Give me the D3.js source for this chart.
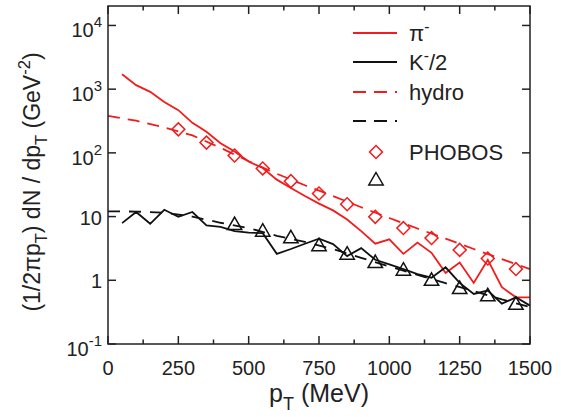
<!DOCTYPE html>
<html>
<head>
<meta charset="utf-8">
<script src="https://cdn.jsdelivr.net/npm/d3@7"></script>
<style>
  body { margin: 0; background: #fff; }
  svg { font-family: "Liberation Sans", Arial, sans-serif; }
</style>
</head>
<body>
<svg id="chart" width="570" height="417"></svg>
<script>
// spectra, pT in MeV
const pT = [50, 100, 150, 200, 250, 300, 350, 400, 450, 500, 550, 600, 650, 700, 750,
  800, 850, 900, 950, 1000, 1050, 1100, 1150, 1200, 1250, 1300, 1350, 1400, 1450, 1500];
const pion = [1713, 1155, 908, 630, 468, 296, 214, 142, 105, 73, 58, 38, 28, 21, 16,
  12.5, 9, 5.9, 3.75, 4.4, 2.6, 3.9, 2.7, 1.3, 1.9, 0.91, 2.1, 0.78, 0.54, 0.54];
const kaon = [7.9, 11.8, 7.7, 12.8, 9.9, 11.8, 7.3, 6.9, 5.9, 5.6, 5.5, 2.6, 3.1, 3.75, 4.5,
  3.7, 2.4, 3.2, 2.1, 1.78, 1.5, 1.25, 1.1, 1.6, 0.91, 0.61, 0.69, 0.43, 0.54, 0.40];

const hydroPT = [0, 100, 200, 300, 400, 500, 600, 700, 800, 900, 1000, 1100, 1200, 1300, 1400, 1500];
const pionHydro = [380, 320, 250, 188, 120, 74, 47, 31, 21, 14, 9.5, 6.5, 4.5, 3.1, 2.15, 1.5];
const kaonHydro = [12.1, 12, 11.5, 10, 8, 6.6, 5, 4, 3.1, 2.25, 1.65, 1.22, 0.9, 0.68, 0.5, 0.38];

const phobosPionPT = [250, 350, 450, 550, 650, 750, 850, 950, 1050, 1150, 1250, 1350, 1450];
const phobosPion = [234, 145, 91, 57, 36, 23, 15.6, 9.9, 6.6, 4.6, 3.0, 2.2, 1.5];
const phobosKaonPT = [450, 550, 650, 750, 850, 950, 1050, 1150, 1250, 1350, 1450];
const phobosKaon = [7.5, 5.9, 4.65, 3.5, 2.57, 1.9, 1.44, 1.0, 0.74, 0.57, 0.42];

const xTicks = [0, 250, 500, 750, 1000, 1250, 1500];
const xMinor = [125, 375, 625, 875, 1125, 1375];
const yTicks = [1e4, 1e3, 1e2, 10, 1, 0.1];
const yLabels = [["10", "4"], ["10", "3"], ["10", "2"], ["10", ""], ["1", ""], ["10", "-1"]];

const red = "#f21c1c";
const ink = "#222";

const margin = { left: 108, top: 6, right: 40, bottom: 73 };
const W = 570, H = 417;

const svg = d3.select("#chart");
const x = d3.scaleLinear().domain([0, 1500]).range([margin.left, W - margin.right]);
const y = d3.scaleLog().domain([0.1, 2.02e4]).range([H - margin.bottom, margin.top]);

const [x0, x1] = x.range();
const [y0, y1] = y.range();

// curves
const line = (xs, ys) => d3.line().x((d, i) => x(xs[i])).y(d => y(d))(ys);

const plot = svg.append("g");

plot.append("path").attr("d", line(pT, pion))
  .attr("fill", "none").attr("stroke", red).attr("stroke-width", 1.8);
plot.append("path").attr("d", line(pT, kaon))
  .attr("fill", "none").attr("stroke", "#111").attr("stroke-width", 1.8);
plot.append("path").attr("d", line(hydroPT, pionHydro))
  .attr("fill", "none").attr("stroke", red).attr("stroke-width", 1.8)
  .attr("stroke-dasharray", "12,8");
plot.append("path").attr("d", line(hydroPT, kaonHydro))
  .attr("fill", "none").attr("stroke", "#111").attr("stroke-width", 1.8)
  .attr("stroke-dasharray", "12,9");

// markers
const diamond = d3.symbol().type(d3.symbolSquare).size(84)();
const triangle = "M0,-7.5L7.2,5L-7.2,5Z";

plot.selectAll(".dia").data(phobosPion).join("path")
  .attr("class", "dia")
  .attr("d", diamond)
  .attr("transform", (d, i) => `translate(${x(phobosPionPT[i])},${y(d)}) rotate(45)`)
  .attr("fill", "none").attr("stroke", red).attr("stroke-width", 1.5);

plot.selectAll(".tri").data(phobosKaon).join("path")
  .attr("class", "tri")
  .attr("d", triangle)
  .attr("transform", (d, i) => `translate(${x(phobosKaonPT[i])},${y(d)})`)
  .attr("fill", "none").attr("stroke", "#111").attr("stroke-width", 1.5);

// frame and ticks
const axes = svg.append("g").attr("stroke", ink).attr("stroke-width", 1.5);

axes.append("rect")
  .attr("x", x0).attr("y", y1).attr("width", x1 - x0).attr("height", y0 - y1)
  .attr("fill", "none");

xTicks.concat(xMinor).forEach(v => {
  const len = xTicks.includes(v) ? 8 : 4.5;
  axes.append("line").attr("x1", x(v)).attr("x2", x(v)).attr("y1", y0).attr("y2", y0 - len);
  axes.append("line").attr("x1", x(v)).attr("x2", x(v)).attr("y1", y1).attr("y2", y1 + len);
});
yTicks.forEach(v => {
  axes.append("line").attr("x1", x0).attr("x2", x0 + 8).attr("y1", y(v)).attr("y2", y(v));
  axes.append("line").attr("x1", x1).attr("x2", x1 - 8).attr("y1", y(v)).attr("y2", y(v));
});

// tick labels
const labels = svg.append("g").attr("fill", ink).attr("font-size", 20);

labels.selectAll(".xl").data(xTicks).join("text")
  .attr("x", d => x(d)).attr("y", y0 + 31)
  .attr("text-anchor", "middle")
  .text(d => d);

yTicks.forEach((v, i) => {
  const [base, exp] = yLabels[i];
  const t = labels.append("text")
    .attr("x", x0 - 6)
    .attr("y", y(v) + (exp ? 12 : 8))
    .attr("text-anchor", "end");
  t.append("tspan").text(base);
  if (exp) t.append("tspan").attr("dy", -10).attr("font-size", 15).text(exp);
});

// rich text helper: parts are [text, shift] with shift "sub", "sup" or none
function rich(g, parts, size) {
  const t = g.append("text").attr("font-size", size);
  let off = 0;
  parts.forEach(([s, kind]) => {
    const target = kind === "sub" ? size * 0.3 : kind === "sup" ? -size * 0.42 : 0;
    t.append("tspan")
      .attr("dy", target - off)
      .attr("font-size", kind ? size * 0.72 : size)
      .text(s);
    off = target;
  });
  return t;
}

// axis titles
rich(svg.append("g").attr("fill", ink), [["p"], ["T", "sub"], [" (MeV)"]], 25)
  .attr("x", (x0 + x1) / 2).attr("y", 402).attr("text-anchor", "middle");

rich(svg.append("g").attr("fill", ink)
    .attr("transform", "translate(40,182) rotate(-90)"),
  [["(1/2πp"], ["T", "sub"], [") dN / dp"], ["T", "sub"], [" (GeV"], ["-2", "sup"], [")"]], 23)
  .attr("x", 0).attr("y", 0).attr("text-anchor", "middle");

// legend
const legendRows = [
  { label: [["π"], ["-", "sup"]], color: red, dash: null, mark: null },
  { label: [["K"], ["-", "sup"], ["/2"]], color: "#111", dash: null, mark: null },
  { label: [["hydro"]], color: red, dash: "13,8", mark: null },
  { label: [], color: "#111", dash: "13,8", mark: null },
  { label: [["PHOBOS"]], color: red, dash: null, mark: "dia" },
  { label: [], color: "#111", dash: null, mark: "tri" },
];
const legendY = [33, 62, 92, 121, 152, 180];

const legend = svg.append("g");
legendRows.forEach((r, i) => {
  const ly = legendY[i];
  if (r.mark === "dia") {
    legend.append("path").attr("d", diamond)
      .attr("transform", `translate(376,${ly}) rotate(45)`)
      .attr("fill", "none").attr("stroke", r.color).attr("stroke-width", 1.5);
  } else if (r.mark === "tri") {
    legend.append("path").attr("d", triangle)
      .attr("transform", `translate(376,${ly})`)
      .attr("fill", "none").attr("stroke", r.color).attr("stroke-width", 1.5);
  } else {
    legend.append("line").attr("x1", 353).attr("x2", 397).attr("y1", ly).attr("y2", ly)
      .attr("stroke", r.color).attr("stroke-width", 1.8)
      .attr("stroke-dasharray", r.dash);
  }
  if (r.label.length) {
    rich(legend.append("g").attr("fill", ink), r.label, 22)
      .attr("x", 409).attr("y", ly + 8);
  }
});
</script>
</body>
</html>
